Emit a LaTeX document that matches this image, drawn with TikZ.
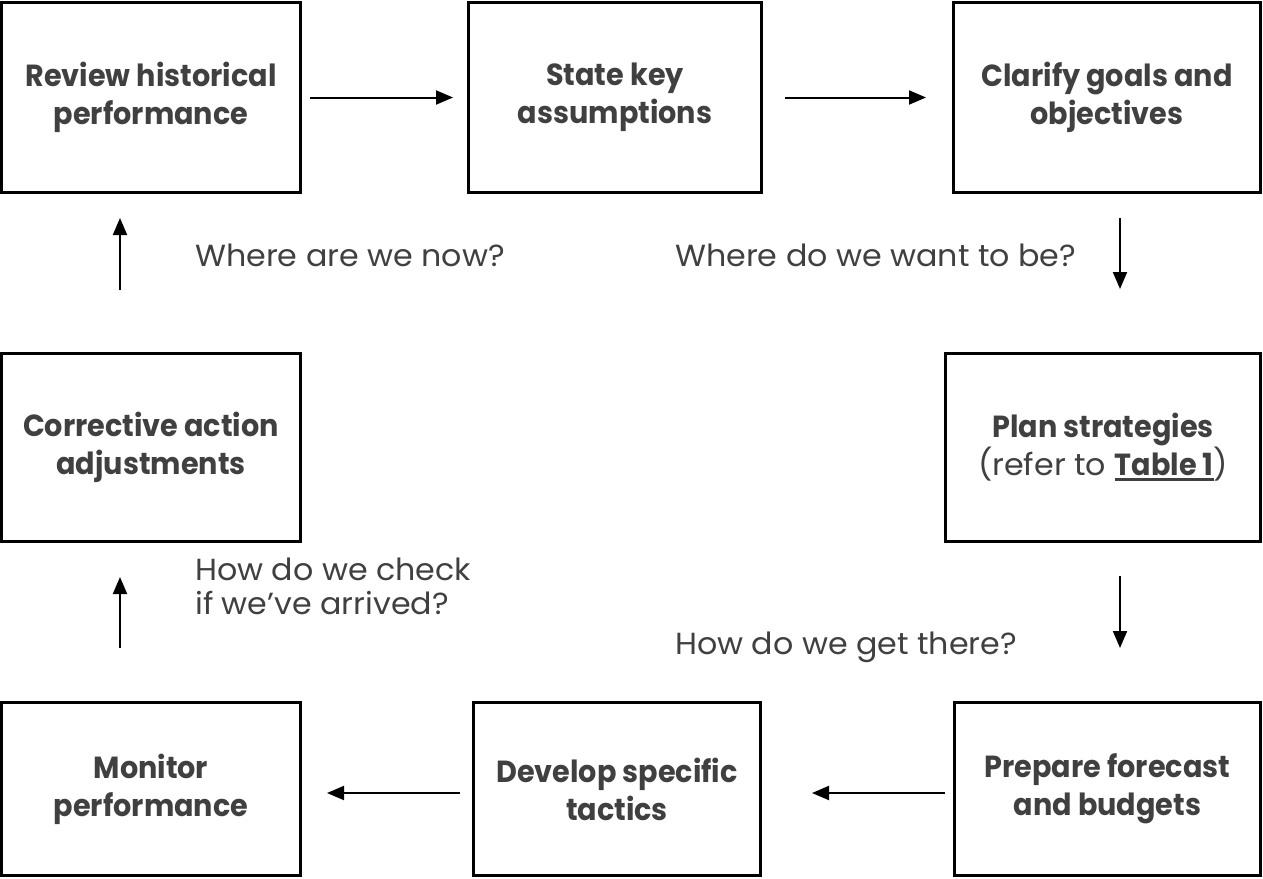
\documentclass[tikz,border=0pt]{standalone}
\usepackage{fontspec}
\setmainfont{Poppins}[UprightFeatures={FakeStretch=1.04},BoldFeatures={FakeStretch=0.94}]
\usetikzlibrary{arrows.meta}
\definecolor{ink}{RGB}{64,64,64}
\newcommand\tbul[1]{\setbox0\hbox{#1}\rlap{\rule[-5pt]{\wd0}{2.5pt}}\box0}
\begin{document}
\begin{tikzpicture}[x=1pt,y=-1pt,
  stepbox/.style={draw=black,line width=3pt,rectangle,inner sep=0pt,
    align=center,text=ink,font=\fontsize{30.5}{38}\selectfont\bfseries},
  arr/.style={line width=2pt,-{Triangle[length=17pt,width=14pt]}},
  qlabel/.style={anchor=base west,inner sep=0pt,text=ink,align=left,
    font=\fontsize{30.5}{34}\selectfont}]
\useasboundingbox (0,0) rectangle (1263,878);
% top row
\node[stepbox,minimum width=299pt,minimum height=190pt] (b1) at (151,97.5) {Review historical\\performance};
\node[stepbox,minimum width=293pt,minimum height=190pt] (b2) at (615,97.5) {State key\\assumptions};
\node[stepbox,minimum width=307pt,minimum height=190pt] (b3) at (1107,97.5) {Clarify goals and\\objectives};
% middle row
\node[stepbox,minimum width=299pt,minimum height=188pt] (b4) at (151,447.5) {Corrective action\\adjustments};
\node[stepbox,minimum width=315pt,minimum height=188pt] (b5) at (1103,447.5) {Plan strategies\\\mdseries(refer to \textbf{\tbul{Table 1}})};
% bottom row
\node[stepbox,minimum width=299pt,minimum height=173pt] (b6) at (151,789) {Monitor\\performance};
\node[stepbox,minimum width=287pt,minimum height=173pt] (b7) at (617,789) {Develop specific\\tactics};
\node[stepbox,minimum width=306pt,minimum height=173pt] (b8) at (1107.5,789) {Prepare forecast\\and budgets};
% connectors
\draw[arr] ([xshift=8pt]b1.east) -- ([xshift=-14pt]b2.west);
\draw[arr] ([xshift=22pt]b2.east) -- ([xshift=-26pt]b3.west);
\draw[arr] ([xshift=13pt,yshift=-24pt]b3.south) -- ([xshift=17pt,yshift=63pt]b5.north);
\draw[arr] ([xshift=17pt,yshift=-33pt]b5.south) -- ([xshift=12.5pt,yshift=53pt]b8.north);
\draw[arr] ([xshift=-8pt,yshift=-4pt]b8.west) -- ([xshift=50pt,yshift=-4pt]b7.east);
\draw[arr] ([xshift=-12pt,yshift=-4pt]b7.west) -- ([xshift=25pt,yshift=-4pt]b6.east);
\draw[arr] ([xshift=-31pt,yshift=53pt]b6.north) -- ([xshift=-31pt,yshift=-34pt]b4.south);
\draw[arr] ([xshift=-31pt,yshift=62pt]b4.north) -- ([xshift=-31pt,yshift=-24pt]b1.south);
% questions
\node[qlabel] (q1) at (195,266) {Where are we now?};
\node[qlabel] (q2) at (675,266) {Where do we want to be?};
\node[qlabel] (q3) at (195,614) {How do we check\\if we’ve arrived?};
\node[qlabel] (q4) at (675,654) {How do we get there?};
\end{tikzpicture}
\end{document}
